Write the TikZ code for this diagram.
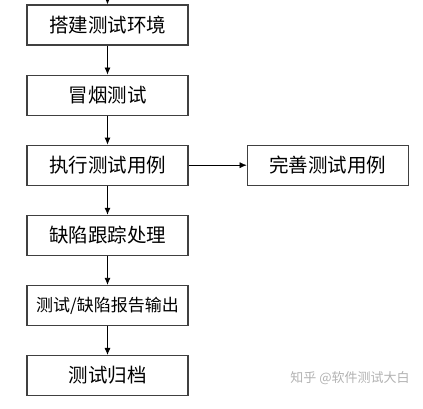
\documentclass[tikz,border=0pt]{standalone}
\usepackage{fontspec}
\setmainfont{Noto Sans CJK SC}
\usetikzlibrary{arrows.meta, positioning}

\begin{document}
\begin{tikzpicture}[x=1pt, y=1pt,
    stepbox/.style={draw=black!75, line width=1.1pt, minimum width=161pt, minimum height=40pt, inner sep=0pt, font=\fontsize{19.5}{22}\selectfont},
    flow/.style={black, thick, -{Latex[length=7pt, width=6pt]}}]
  \useasboundingbox (0, 0) rectangle (423, -409);
  \coordinate (top) at (107.5, 0);
  \node[stepbox] (env) at (107.5, -25) {搭建测试环境};
  \node[stepbox, below=29pt of env] (smoke) {冒烟测试};
  \node[stepbox, below=29pt of smoke] (run) {执行测试用例};
  \node[stepbox, right=58pt of run] (improve) {完善测试用例};
  \node[stepbox, below=29pt of run] (bug) {缺陷跟踪处理};
  \node[stepbox, below=29pt of bug, font=\fontsize{17}{19}\selectfont] (report) {测试/缺陷报告输出};
  \node[stepbox, below=29pt of report] (archive) {测试归档};
  \draw[flow] (top) -- (env);
  \draw[flow] (env) -- (smoke);
  \draw[flow] (smoke) -- (run);
  \draw[flow] (run) -- (bug);
  \draw[flow] (bug) -- (report);
  \draw[flow] (report) -- (archive);
  \draw[flow, thin] (run) -- (improve);
  % watermark
  \node[black!30, font=\fontsize{13}{15}\selectfont] (mark) at (350, -378) {知乎 @软件测试大白};
\end{tikzpicture}
\end{document}
